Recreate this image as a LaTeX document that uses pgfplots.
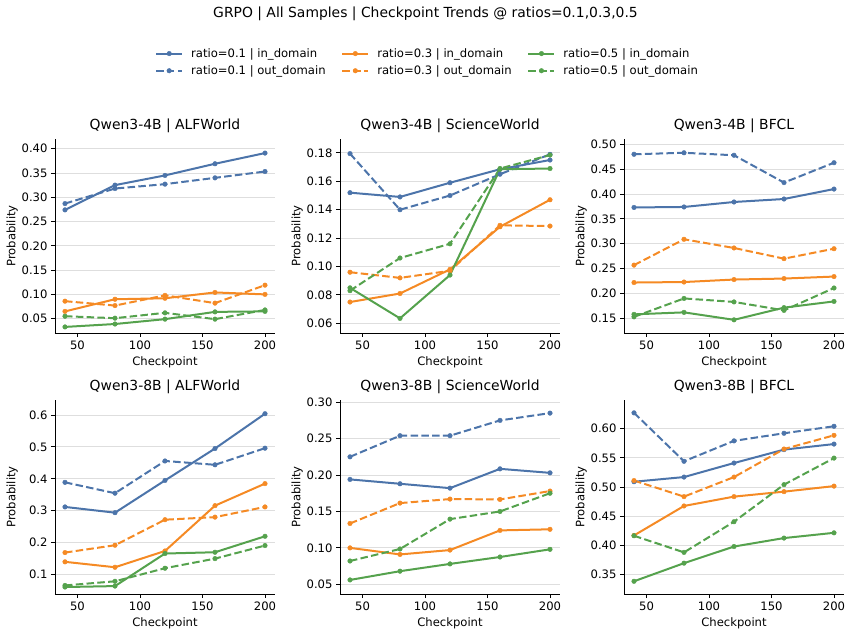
\documentclass[border=0pt]{standalone}
\usepackage{fontspec}
\setmainfont{DejaVu Sans}
\usepackage{pgfplots}
\pgfplotsset{compat=1.18}
\definecolor{cB}{HTML}{4C74AA}
\definecolor{cO}{HTML}{F58A24}
\definecolor{cG}{HTML}{55A24D}
\newcommand\fsA{\fontsize{11.6bp}{13.9bp}\selectfont}
\newcommand\fsT{\fontsize{13.9bp}{16.7bp}\selectfont}
\pgfplotsset{
  sub/.style={
    scale only axis, width=220bp, height=194bp,
    xmin=32, xmax=208, xtick={50,100,150,200},
    axis x line*=bottom, axis y line*=left,
    axis line style={-, line width=0.93bp, black},
    tick align=outside, major tick length=4bp,
    tick style={line width=0.93bp, black},
    ymajorgrids, grid style={line width=0.9bp, color=black!13},
    ticklabel style={font=\fsA},
    /pgf/number format/assume math mode=true,
    yticklabel style={/pgf/number format/fixed, /pgf/number format/fixed zerofill, /pgf/number format/precision=2},
    scaled y ticks=false,
    xlabel={Checkpoint}, ylabel={Probability},
    every axis x label/.style={at={(axis description cs:0.5,-0.1186)}, anchor=north, inner sep=0pt, font=\fsA},
    every axis y label/.style={at={(axis description cs:-0.168,0.5)}, anchor=south, rotate=90, inner sep=0pt, font=\fsA},
    title style={font=\fsT, at={(axis description cs:0.5,1.019)}, anchor=base, inner sep=0pt},
    every axis plot/.append style={line width=2bp, mark=*, mark size=2.3bp, mark options={solid, line width=0.4bp}},
    legend image code/.code={\draw[mark repeat=2,mark phase=2,##1] plot coordinates {(0bp,0bp) (13bp,0bp) (26bp,0bp)};},
  },
  lin/.style={solid},
  lout/.style={dash pattern=on 7.5bp off 3.3bp},
  leg/.style={line width=2bp, mark=*, mark size=2.3bp, mark options={solid, line width=0.4bp}},
}
\begin{document}
\begin{tikzpicture}
\useasboundingbox (0,0) rectangle (851bp,637bp);
\node[font=\fsT, anchor=base] at (425.5bp,619.3bp) {GRPO | All Samples | Checkpoint Trends @ ratios=0.1,0.3,0.5};

% ---- Qwen3-4B ALFWorld
\begin{axis}[sub, at={(55bp,304bp)}, anchor=south west,
  title={Qwen3-4B | ALFWorld}, ymin=0.0205, ymax=0.420,
  ytick={0.05,0.10,0.15,0.20,0.25,0.30,0.35,0.40},
  legend columns=3, legend cell align=left,
  legend style={at={(axis description cs:0.4545,1.468)}, anchor=north west, draw=none, fill=none, inner sep=0pt, font=\fsA, row sep=6.8bp,
    nodes={inner sep=0pt},
    /tikz/every odd column/.append style={column sep=8bp},
    /tikz/every even column/.append style={column sep=15.7bp}}]
\addplot[cB, lin, forget plot] coordinates {(40,0.274)(80,0.325)(120,0.345)(160,0.369)(200,0.391)};
\addplot[cB, lout, forget plot] coordinates {(40,0.287)(80,0.318)(120,0.327)(160,0.340)(200,0.353)};
\addplot[cO, lin, forget plot] coordinates {(40,0.065)(80,0.090)(120,0.092)(160,0.104)(200,0.100)};
\addplot[cO, lout, forget plot] coordinates {(40,0.086)(80,0.077)(120,0.098)(160,0.082)(200,0.119)};
\addplot[cG, lin, forget plot] coordinates {(40,0.033)(80,0.039)(120,0.049)(160,0.064)(200,0.065)};
\addplot[cG, lout, forget plot] coordinates {(40,0.055)(80,0.051)(120,0.062)(160,0.049)(200,0.068)};
\addlegendimage{cB, lin, leg}
\addlegendentry{ratio=0.1 | in\_domain}
\addlegendimage{cO, lin, leg}
\addlegendentry{ratio=0.3 | in\_domain}
\addlegendimage{cG, lin, leg}
\addlegendentry{ratio=0.5 | in\_domain}
\addlegendimage{cB, lout, leg}
\addlegendentry{ratio=0.1 | out\_domain}
\addlegendimage{cO, lout, leg}
\addlegendentry{ratio=0.3 | out\_domain}
\addlegendimage{cG, lout, leg}
\addlegendentry{ratio=0.5 | out\_domain}
\end{axis}

% ---- Qwen3-4B ScienceWorld
\begin{axis}[sub, at={(340bp,304bp)}, anchor=south west,
  title={Qwen3-4B | ScienceWorld}, ymin=0.0532, ymax=0.1898,
  ytick={0.06,0.08,0.10,0.12,0.14,0.16,0.18}]
\addplot[cB, lin] coordinates {(40,0.152)(80,0.149)(120,0.159)(160,0.1685)(200,0.175)};
\addplot[cB, lout] coordinates {(40,0.1795)(80,0.140)(120,0.150)(160,0.165)(200,0.179)};
\addplot[cO, lin] coordinates {(40,0.075)(80,0.081)(120,0.098)(160,0.128)(200,0.147)};
\addplot[cO, lout] coordinates {(40,0.096)(80,0.092)(120,0.097)(160,0.129)(200,0.1285)};
\addplot[cG, lin] coordinates {(40,0.085)(80,0.0635)(120,0.094)(160,0.1685)(200,0.169)};
\addplot[cG, lout] coordinates {(40,0.083)(80,0.106)(120,0.116)(160,0.169)(200,0.1785)};
\end{axis}

% ---- Qwen3-4B BFCL
\begin{axis}[sub, at={(624bp,304bp)}, anchor=south west,
  title={Qwen3-4B | BFCL}, ymin=0.1205, ymax=0.5107,
  ytick={0.15,0.20,0.25,0.30,0.35,0.40,0.45,0.50}]
\addplot[cB, lin] coordinates {(40,0.373)(80,0.374)(120,0.384)(160,0.390)(200,0.410)};
\addplot[cB, lout] coordinates {(40,0.480)(80,0.483)(120,0.478)(160,0.423)(200,0.463)};
\addplot[cO, lin] coordinates {(40,0.222)(80,0.223)(120,0.228)(160,0.230)(200,0.234)};
\addplot[cO, lout] coordinates {(40,0.257)(80,0.309)(120,0.2915)(160,0.270)(200,0.290)};
\addplot[cG, lin] coordinates {(40,0.158)(80,0.162)(120,0.147)(160,0.1715)(200,0.184)};
\addplot[cG, lout] coordinates {(40,0.153)(80,0.190)(120,0.183)(160,0.166)(200,0.211)};
\end{axis}

% ---- Qwen3-8B ALFWorld
\begin{axis}[sub, at={(55bp,43bp)}, anchor=south west,
  title={Qwen3-8B | ALFWorld}, ymin=0.0392, ymax=0.647,
  ytick={0.1,0.2,0.3,0.4,0.5,0.6},
  yticklabel style={/pgf/number format/precision=1}]
\addplot[cB, lin] coordinates {(40,0.312)(80,0.294)(120,0.395)(160,0.495)(200,0.604)};
\addplot[cB, lout] coordinates {(40,0.389)(80,0.355)(120,0.456)(160,0.444)(200,0.496)};
\addplot[cO, lin] coordinates {(40,0.140)(80,0.123)(120,0.174)(160,0.316)(200,0.385)};
\addplot[cO, lout] coordinates {(40,0.169)(80,0.192)(120,0.272)(160,0.280)(200,0.312)};
\addplot[cG, lin] coordinates {(40,0.061)(80,0.064)(120,0.166)(160,0.170)(200,0.220)};
\addplot[cG, lout] coordinates {(40,0.066)(80,0.079)(120,0.120)(160,0.150)(200,0.191)};
\end{axis}

% ---- Qwen3-8B ScienceWorld
\begin{axis}[sub, at={(340bp,43bp)}, anchor=south west,
  title={Qwen3-8B | ScienceWorld}, ymin=0.0367, ymax=0.303,
  ytick={0.05,0.10,0.15,0.20,0.25,0.30}]
\addplot[cB, lin] coordinates {(40,0.194)(80,0.188)(120,0.182)(160,0.2085)(200,0.203)};
\addplot[cB, lout] coordinates {(40,0.225)(80,0.254)(120,0.254)(160,0.275)(200,0.285)};
\addplot[cO, lin] coordinates {(40,0.100)(80,0.091)(120,0.097)(160,0.124)(200,0.1255)};
\addplot[cO, lout] coordinates {(40,0.1335)(80,0.1615)(120,0.167)(160,0.1665)(200,0.178)};
\addplot[cG, lin] coordinates {(40,0.056)(80,0.068)(120,0.078)(160,0.0875)(200,0.098)};
\addplot[cG, lout] coordinates {(40,0.082)(80,0.0985)(120,0.1395)(160,0.150)(200,0.175)};
\end{axis}

% ---- Qwen3-8B BFCL
\begin{axis}[sub, at={(624bp,43bp)}, anchor=south west,
  title={Qwen3-8B | BFCL}, ymin=0.3167, ymax=0.649,
  ytick={0.35,0.40,0.45,0.50,0.55,0.60}]
\addplot[cB, lin] coordinates {(40,0.509)(80,0.517)(120,0.541)(160,0.564)(200,0.5735)};
\addplot[cB, lout] coordinates {(40,0.627)(80,0.544)(120,0.579)(160,0.592)(200,0.604)};
\addplot[cO, lin] coordinates {(40,0.417)(80,0.4675)(120,0.4835)(160,0.492)(200,0.5015)};
\addplot[cO, lout] coordinates {(40,0.511)(80,0.4835)(120,0.517)(160,0.565)(200,0.5885)};
\addplot[cG, lin] coordinates {(40,0.3385)(80,0.3695)(120,0.398)(160,0.4125)(200,0.4215)};
\addplot[cG, lout] coordinates {(40,0.4165)(80,0.388)(120,0.4405)(160,0.504)(200,0.5495)};
\end{axis}
\end{tikzpicture}
\end{document}
